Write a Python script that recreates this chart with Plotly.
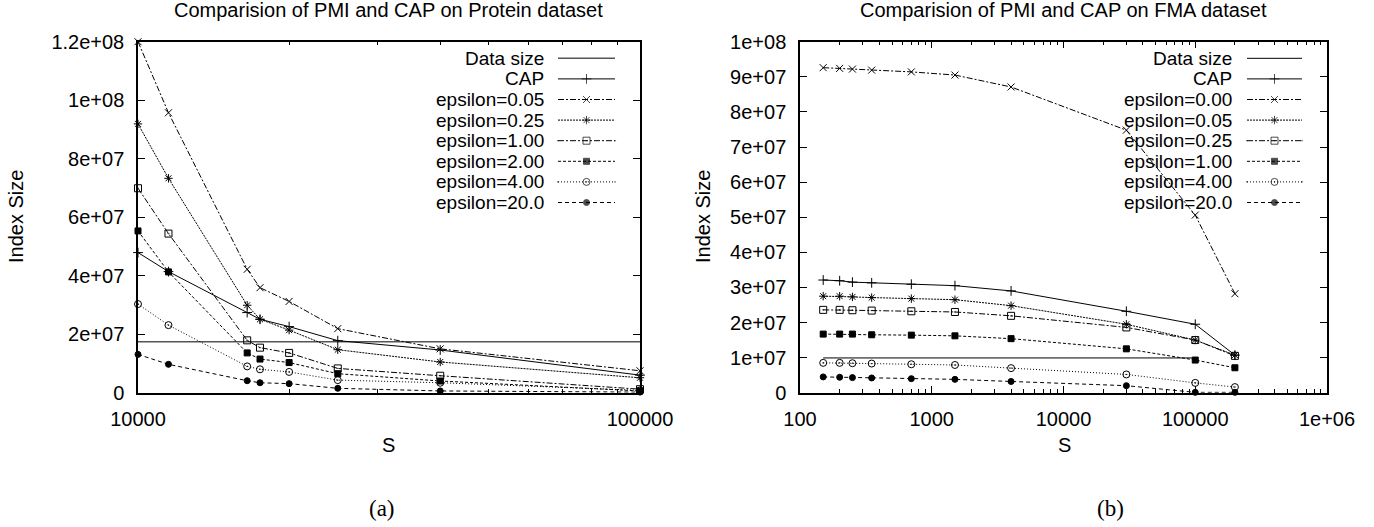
import plotly.graph_objects as go

# ---------------- (a) Protein dataset ----------------
s_protein = [10000, 11500, 16500, 17500, 20000, 25000, 40000, 100000]
cap_protein = [47.9e6, 41.4e6, 27.4e6, 25.1e6, 22.6e6, 17.8e6, 14.6e6, 6.0e6]
eps005_protein = [120.0e6, 95.7e6, 42.2e6, 35.9e6, 31.2e6, 21.9e6, 15.0e6, 7.5e6]
eps025_protein = [91.9e6, 73.3e6, 29.9e6, 25.1e6, 21.4e6, 14.7e6, 10.5e6, 5.1e6]
eps100_protein = [69.9e6, 54.4e6, 17.9e6, 15.4e6, 13.6e6, 8.3e6, 5.8e6, 1.2e6]
eps200_protein = [55.3e6, 41.3e6, 13.6e6, 11.5e6, 10.3e6, 6.5e6, 4.0e6, 0.6e6]
eps400_protein = [30.3e6, 23.1e6, 9.0e6, 8.0e6, 7.1e6, 4.3e6, 3.4e6, 0.8e6]
eps2000_protein = [13.1e6, 9.7e6, 4.1e6, 3.4e6, 3.1e6, 1.5e6, 0.6e6, 0.2e6]
size_protein_s = [10000, 100000]
size_protein = [17.4e6, 17.4e6]

# ---------------- (b) FMA dataset ----------------
s_fma = [150, 200, 250, 350, 700, 1500, 4000, 30000, 100000, 200000]
cap_fma = [32.1e6, 31.9e6, 31.5e6, 31.3e6, 30.9e6, 30.5e6, 29.0e6, 23.2e6, 19.5e6, 10.7e6]
eps000_fma = [92.6e6, 92.4e6, 92.2e6, 91.9e6, 91.4e6, 90.5e6, 87.1e6, 74.8e6, 50.6e6, 28.2e6]
eps005_fma = [27.5e6, 27.5e6, 27.3e6, 27.1e6, 26.8e6, 26.5e6, 24.8e6, 19.5e6, 15.0e6, 10.7e6]
eps025_fma = [23.6e6, 23.6e6, 23.5e6, 23.4e6, 23.2e6, 23.0e6, 21.9e6, 18.6e6, 15.0e6, 10.5e6]
eps100_fma = [16.7e6, 16.7e6, 16.7e6, 16.5e6, 16.4e6, 16.2e6, 15.4e6, 12.5e6, 9.3e6, 7.1e6]
eps400_fma = [8.5e6, 8.5e6, 8.4e6, 8.3e6, 8.1e6, 7.9e6, 7.0e6, 5.2e6, 2.8e6, 1.6e6]
eps2000_fma = [4.5e6, 4.4e6, 4.3e6, 4.2e6, 4.0e6, 3.8e6, 3.2e6, 2.0e6, 0.1e6, 0.1e6]
size_fma_s = [150, 100000]
size_fma = [9.9e6, 9.9e6]

# ---------------- ticks ----------------
xtick_a_vals = [10000, 100000]
xtick_a_text = ["10000", "100000"]
xtick_b_vals = [100, 1000, 10000, 100000, 1000000]
xtick_b_text = ["100", "1000", "10000", "100000", "1e+06"]
ytick_a_vals = [0, 2e7, 4e7, 6e7, 8e7, 1e8, 1.2e8]
ytick_a_text = ["0", "2e+07", "4e+07", "6e+07", "8e+07", "1e+08", "1.2e+08"]
ytick_b_vals = [0, 1e7, 2e7, 3e7, 4e7, 5e7, 6e7, 7e7, 8e7, 9e7, 1e8]
ytick_b_text = ["0", "1e+07", "2e+07", "3e+07", "4e+07", "5e+07", "6e+07",
                "7e+07", "8e+07", "9e+07", "1e+08"]
minor_a = [m * 10 ** 4 for m in range(2, 10)]
minor_b = [m * 10 ** d for d in range(2, 6) for m in range(2, 10)]

FONT = "Liberation Sans, Arial, Helvetica, sans-serif"
SERIF = "Liberation Serif, Times New Roman, serif"
W, H = 1374, 527

def px(x):
    return x / W

def py(y):
    return 1 - y / H

# line dash patterns
DD = "6px,2px,2px,2px"
DOT = "2px,1px"
DOT2 = "1px,2px"
DASH = "3px,2px"
DASH2 = "4px,3px"

series_a = [
    ("Data size", size_protein_s, size_protein, None, "solid", "#555", 1.5),
    ("CAP", s_protein, cap_protein, "cross-thin-open", "solid", "black", 1),
    ("epsilon=0.05", s_protein, eps005_protein, "x-thin-open", DD, "black", 1),
    ("epsilon=0.25", s_protein, eps025_protein, "asterisk-open", DOT, "black", 1),
    ("epsilon=1.00", s_protein, eps100_protein, "square-open-dot", DD, "black", 1),
    ("epsilon=2.00", s_protein, eps200_protein, "square", DASH, "black", 1),
    ("epsilon=4.00", s_protein, eps400_protein, "circle-open-dot", DOT2, "black", 1),
    ("epsilon=20.0", s_protein, eps2000_protein, "circle", DASH2, "black", 1),
]
series_b = [
    ("Data size", size_fma_s, size_fma, None, "solid", "black", 1),
    ("CAP", s_fma, cap_fma, "cross-thin-open", "solid", "black", 1),
    ("epsilon=0.00", s_fma, eps000_fma, "x-thin-open", DD, "black", 1),
    ("epsilon=0.05", s_fma, eps005_fma, "asterisk-open", DOT, "black", 1),
    ("epsilon=0.25", s_fma, eps025_fma, "square-open-dot", DD, "black", 1),
    ("epsilon=1.00", s_fma, eps100_fma, "square", DASH, "black", 1),
    ("epsilon=4.00", s_fma, eps400_fma, "circle-open-dot", DOT2, "black", 1),
    ("epsilon=20.0", s_fma, eps2000_fma, "circle", DASH2, "black", 1),
]

def msize(sym):
    if sym is None:
        return 0
    if sym in ("square", "circle"):
        return 6
    return 7

fig = go.Figure()

def add_series(series, xa, ya, lxa, lya):
    n = len(series)
    for i, (name, xs, ys, sym, dash, color, lw) in enumerate(series):
        mk = dict(symbol=sym or "circle", size=msize(sym), color="black",
                  line=dict(color="black", width=1))
        fig.add_trace(go.Scatter(
            x=xs, y=ys, name=name, mode="lines+markers" if sym else "lines",
            line=dict(color=color, width=lw, dash=dash),
            marker=mk, xaxis=xa, yaxis=ya, cliponaxis=False,
            showlegend=False, hoverinfo="skip"))
        # legend sample (line with marker in the middle)
        yy = n - i - 0.5
        mk2 = dict(mk)
        mk2["size"] = [0, msize(sym), 0]
        fig.add_trace(go.Scatter(
            x=[0, 0.5, 1], y=[yy, yy, yy], mode="lines+markers" if sym else "lines",
            line=dict(color=color, width=lw, dash=dash), marker=mk2,
            xaxis=lxa, yaxis=lya, cliponaxis=False, showlegend=False,
            hoverinfo="skip"))

add_series(series_a, "x", "y", "x3", "y3")
add_series(series_b, "x2", "y2", "x4", "y4")

top, bottom = 41.7, 392.7
ydom = [py(bottom), py(top)]

axis_common = dict(showline=True, linecolor="black", linewidth=1.5, mirror="allticks",
                   ticks="inside", ticklen=7, tickwidth=1, tickcolor="black",
                   showgrid=False, zeroline=False, automargin=False,
                   tickfont=dict(family=FONT, size=20, color="black"))
minor_common = dict(tickmode="array", ticks="inside", ticklen=4,
                    tickcolor="black", tickwidth=1, showgrid=False)

fig.update_layout(
    width=W, height=H, autosize=False,
    margin=dict(l=0, r=0, t=0, b=0, pad=0),
    paper_bgcolor="white", plot_bgcolor="white",
    font=dict(family=FONT, size=20, color="black"),
    showlegend=False,
    xaxis=dict(domain=[px(138), px(640)], anchor="y", type="log", range=[4, 5],
               tickmode="array", tickvals=xtick_a_vals, ticktext=xtick_a_text,
               minor=dict(tickvals=minor_a, **minor_common),
               ticklabelstandoff=8, **axis_common),
    yaxis=dict(domain=ydom, anchor="x", range=[0, 1.2e8],
               tickmode="array", tickvals=ytick_a_vals, ticktext=ytick_a_text,
               ticklabelstandoff=8, **axis_common),
    xaxis2=dict(domain=[px(800), px(1327)], anchor="y2", type="log", range=[2, 6],
                tickmode="array", tickvals=xtick_b_vals, ticktext=xtick_b_text,
                minor=dict(tickvals=minor_b, **minor_common),
                ticklabelstandoff=8, **axis_common),
    yaxis2=dict(domain=ydom, anchor="x2", range=[0, 1e8],
                tickmode="array", tickvals=ytick_b_vals, ticktext=ytick_b_text,
                ticklabelstandoff=8, **axis_common),
)

# legend sample axes
row_h = 20.6
leg_top = 58.3 - row_h / 2
leg_bot = leg_top + row_h * 8
hidden = dict(visible=False, fixedrange=True, automargin=False)
fig.update_layout(
    xaxis3=dict(domain=[px(558), px(615)], anchor="y3", range=[0, 1], **hidden),
    yaxis3=dict(domain=[py(leg_bot), py(leg_top)], anchor="x3", range=[0, 8], **hidden),
    xaxis4=dict(domain=[px(1247), px(1302)], anchor="y4", range=[0, 1], **hidden),
    yaxis4=dict(domain=[py(leg_bot), py(leg_top)], anchor="x4", range=[0, 8], **hidden),
)

ann = []
for series, yref, xr in ((series_a, "y3", 546), (series_b, "y4", 1234)):
    n = len(series)
    for i, s in enumerate(series):
        ann.append(dict(text=s[0], xref="paper", yref=yref, x=px(xr), y=n - i - 0.5,
                        xanchor="right", yanchor="middle", showarrow=False,
                        font=dict(family=FONT, size=19, color="black")))

def label(text, x, y, size=20, angle=0, family=FONT):
    ann.append(dict(text=text, xref="paper", yref="paper", x=px(x), y=py(y),
                    xanchor="center", yanchor="middle", showarrow=False, textangle=angle,
                    font=dict(family=family, size=size, color="black")))

label("Comparision of PMI and CAP on Protein dataset", 389, 10, size=20)
label("Comparision of PMI and CAP on FMA dataset", 1063.5, 10, size=20)
label("Index Size", 16, 217, angle=-90)
label("Index Size", 703, 217, angle=-90)
label("S", 389, 445)
label("S", 1064, 445)
label("(a)", 382, 508, size=23, family=SERIF)
label("(b)", 1110, 508, size=23, family=SERIF)

fig.update_layout(annotations=ann)

fig.write_html("out.html", include_plotlyjs=True,
               config={"displayModeBar": False},
               post_script="document.body.style.margin='0';document.body.style.overflow='hidden';")
